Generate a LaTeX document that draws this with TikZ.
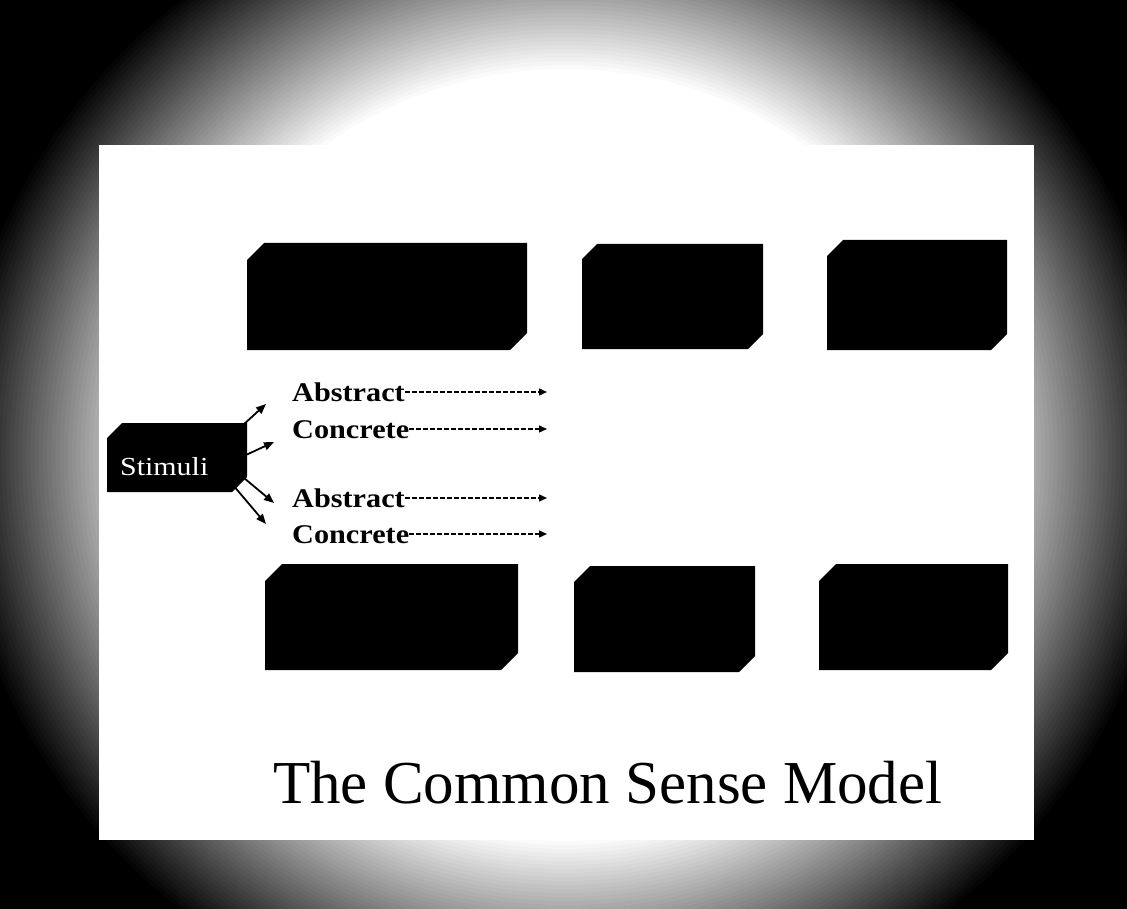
\documentclass[tikz,border=0pt]{standalone}
\usepackage{fontspec}
\setmainfont{Liberation Serif}
\usetikzlibrary{arrows.meta,calc}

% black block with two cut corners, drawn on an (invisible) named node
\newcommand\chamferblock[2]{%
  \fill[black] ($(#1.north west)+(0,#2)$) -- ($(#1.north west)+(#2,0)$)
    -- (#1.north east) -- ($(#1.south east)+(0,-#2)$)
    -- ($(#1.south east)+(-#2,0)$) -- (#1.south west) -- cycle;}

\begin{document}
\begin{tikzpicture}[x=1pt,y=-1pt,
  blk/.style={inner sep=0pt, outer sep=0pt},
  lbl/.style={inner sep=0pt, anchor=base west, font=\bfseries\fontsize{27}{30}\selectfont, xscale=1.12},
  dasharrow/.style={line width=1.3pt, dash pattern=on 5pt off 2pt, -{Triangle[length=8pt,width=7pt]}},
  solidarrow/.style={line width=1.8pt, -{Triangle[length=10pt,width=8pt]}}]

\useasboundingbox (0,0) rectangle (1127,909);
\fill[black] (0,0) rectangle (1127,909);

% soft light spot behind the slide: rings from black to white
\begin{scope}
  \clip (0,0) rectangle (1127,909);
  \foreach \r in {590,586,...,386}{
    \pgfmathsetmacro\p{(590-\r)/204*100}
    \fill[white!\p!black] (565,455) ellipse[x radius=1.04*\r pt, y radius=1.0*\r pt];
  }
\end{scope}

% slide
\fill[white] (99,145) rectangle (1034,840);

% top row of blocks
\node[blk, minimum width=280pt, minimum height=107pt] (b1) at (387,296.5) {};
\node[blk, minimum width=181pt, minimum height=105pt] (b2) at (672.5,296.5) {};
\node[blk, minimum width=180pt, minimum height=110pt] (b3) at (917,295) {};
\chamferblock{b1}{17}
\chamferblock{b2}{15}
\chamferblock{b3}{16}

% bottom row of blocks
\node[blk, minimum width=253pt, minimum height=106pt] (b4) at (391.5,617) {};
\node[blk, minimum width=181pt, minimum height=106pt] (b5) at (664.5,619) {};
\node[blk, minimum width=189pt, minimum height=106pt] (b6) at (913.5,617) {};
\chamferblock{b4}{17}
\chamferblock{b5}{16}
\chamferblock{b6}{17}

% stimuli block
\node[blk, minimum width=140pt, minimum height=69pt] (stim) at (177,457.5) {};
\chamferblock{stim}{15}
\node[inner sep=0pt, anchor=base west, text=white, font=\fontsize{26}{30}\selectfont, xscale=1.15] (stxt) at (120,475) {Stimuli};

% routes
\node[lbl] (a1) at (292,401) {Abstract};
\node[lbl] (c1) at (292,438) {Concrete};
\node[lbl] (a2) at (292,507) {Abstract};
\node[lbl] (c2) at (292,543) {Concrete};

\coordinate (tip) at (547,0);
\foreach \n in {a1,c1,a2,c2}{
  \draw[dasharrow] ([yshift=9pt]\n.base east) -- ([yshift=9pt]\n.base east -| tip);
}

% arrows leaving the stimuli block
\coordinate (s1) at (266,404);
\coordinate (s2) at (274,442);
\coordinate (s3) at (274,503);
\coordinate (s4) at (266,524);
\draw[solidarrow] ($(stim.north east)+(-4,2)$) -- (s1);
\draw[solidarrow] ($(stim.east)+(0,-3)$) -- (s2);
\draw[solidarrow] ($(stim.south east)+(-3,-14)$) -- (s3);
\draw[solidarrow] ($(stim.south east)+(-14,-7)$) -- (s4);

% title
\node[inner sep=0pt, anchor=base west, font=\fontsize{61}{70}\selectfont] (title) at (273,803) {The Common Sense Model};
\end{tikzpicture}
\end{document}
